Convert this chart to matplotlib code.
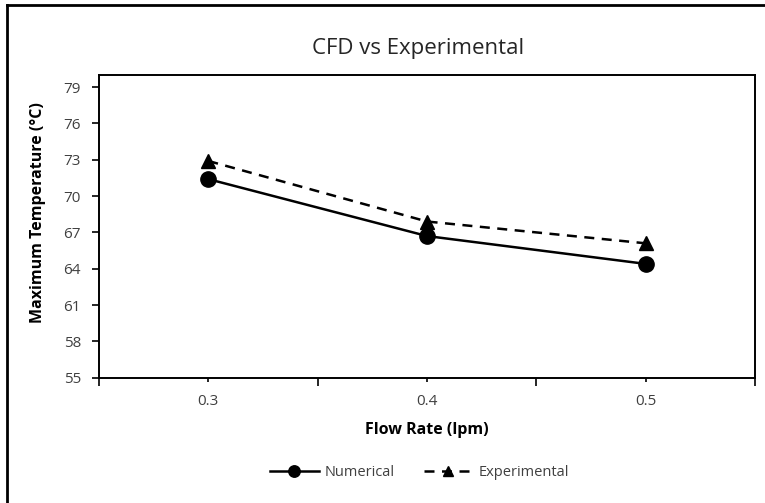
import numpy as np
import matplotlib.pyplot as plt
from matplotlib.lines import Line2D
from matplotlib.ticker import FixedLocator

plt.rcParams['font.family'] = ['Open Sans', 'DejaVu Sans']

# Flow rate (lpm) vs maximum temperature (degC)
flow_rate = [0.3, 0.4, 0.5]
temp_numerical = [71.4, 66.7, 64.4]
temp_experimental = [72.9, 67.9, 66.1]

y_ticks = [55, 58, 61, 64, 67, 70, 73, 76, 79]
x_labels = ['0.3', '0.4', '0.5']
x_minor = [0.25, 0.35, 0.45, 0.55]

grey = '#404040'

fig = plt.figure(figsize=(7.65, 5.03), dpi=100)
ax = fig.add_axes([0.1294, 0.2491, 0.8575, 0.6018])

ax.plot(flow_rate, temp_numerical, color='black', lw=1.8, marker='o',
        markersize=11, label='Numerical', solid_joinstyle='round')
ax.plot(flow_rate, temp_experimental, color='black', lw=1.8, marker='^',
        markersize=10, dashes=(4, 3), label='Experimental')

ax.set_xlim(0.25, 0.55)
ax.set_ylim(55, 80)
ax.set_yticks(y_ticks)
ax.set_xticks(flow_rate)
ax.set_xticklabels(x_labels)
ax.xaxis.set_minor_locator(FixedLocator(x_minor))

ax.tick_params(axis='y', which='major', direction='out', length=5, width=1.2,
               pad=8, labelsize=11, labelcolor=grey)
ax.tick_params(axis='x', which='major', direction='out', length=3, width=1.2,
               pad=9, labelsize=11, labelcolor=grey)
ax.tick_params(axis='x', which='minor', direction='out', length=6, width=1.2)

for sp in ax.spines.values():
    sp.set_color('black')
    sp.set_linewidth(1.4)

ax.set_xlabel('Flow Rate (lpm)', fontsize=11.5, fontweight='bold', labelpad=9)
ax.set_ylabel('Maximum Temperature (°C)', fontsize=11.5, fontweight='bold')
ax.yaxis.set_label_coords(-0.081, 0.545)

fig.text(0.546, 0.903, 'CFD vs Experimental', fontsize=16, color='#262626',
         ha='center', va='center')

fig.legend(loc='center', bbox_to_anchor=(0.548, 0.06), ncol=2, frameon=False,
           fontsize=10.5, handlelength=3.4, handletextpad=0.35, columnspacing=2.0,
           numpoints=1, markerscale=0.75, labelcolor=grey)

# outer chart border (left and top edges)
fig.add_artist(Line2D([0.0092, 0.0092], [0.0, 0.99], transform=fig.transFigure,
                      color='black', lw=2))
fig.add_artist(Line2D([0.0092, 1.0], [0.99, 0.99], transform=fig.transFigure,
                      color='black', lw=2))

fig.savefig('out.png', dpi=100)
